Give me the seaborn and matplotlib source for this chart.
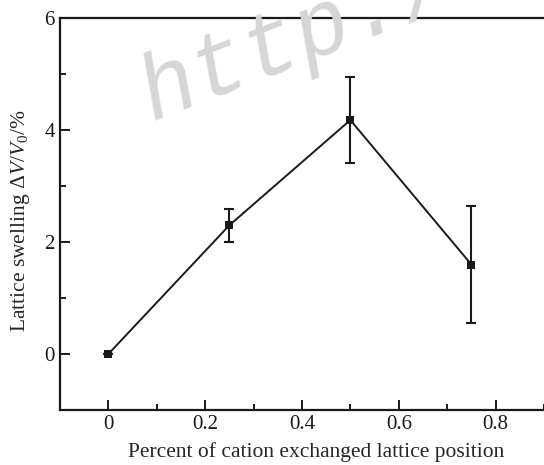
import pandas as pd
import numpy as np
import matplotlib

matplotlib.use("Agg")
import matplotlib.pyplot as plt
import seaborn as sns
from matplotlib.ticker import MultipleLocator

# data
fraction = [0.0, 0.25, 0.5, 0.75]
swelling = [0.0, 2.3, 4.18, 1.6]
err = [0.0, 0.29, 0.77, 1.05]

df = pd.DataFrame({"fraction": fraction, "swelling": swelling})

sns.set_style("ticks")
plt.rcParams["font.family"] = ["Liberation Serif", "DejaVu Serif"]
plt.rcParams["mathtext.fontset"] = "custom"
plt.rcParams["mathtext.rm"] = "Liberation Serif"
plt.rcParams["mathtext.it"] = "Liberation Serif:italic"

fig = plt.figure(figsize=(5.44, 4.65), dpi=100)
ax = fig.add_axes([0.110, 0.118, 0.89, 0.843])

# watermark behind everything
fig.text(0.279, 0.742, "http./", fontsize=66, color="#d6d6d6", rotation=21,
         family="Liberation Mono", style="italic", ha="left", va="baseline",
         rotation_mode="anchor", zorder=0)
ax.patch.set_alpha(0)

ax.errorbar(fraction, swelling, yerr=err, fmt="none", ecolor="#1a1a1a",
            elinewidth=1.5, capsize=3.5, capthick=1.5, zorder=2)
sns.lineplot(data=df, x="fraction", y="swelling", ax=ax, color="#1a1a1a",
             lw=1.4, marker="s", markersize=6, markeredgewidth=0, zorder=3)

ax.set_xlim(-0.1, 0.9)
ax.set_ylim(-1, 6)
ax.set_xticks([0, 0.2, 0.4, 0.6, 0.8])
ax.set_xticklabels(["0", "0.2", "0.4", "0.6", "0.8"])
ax.set_yticks([0, 2, 4, 6])
ax.xaxis.set_minor_locator(MultipleLocator(0.1))
ax.yaxis.set_minor_locator(MultipleLocator(1))
ax.tick_params(which="both", direction="in", top=False, right=False,
               width=1.4, labelsize=15, colors="#1a1a1a")
ax.tick_params(which="major", length=7)
ax.tick_params(which="minor", length=4)

for s in ["left", "bottom", "top"]:
    ax.spines[s].set_linewidth(1.6)
    ax.spines[s].set_color("#1a1a1a")
ax.spines["right"].set_visible(False)

ax.set_xlabel("Percent of cation exchanged lattice position", fontsize=15.5)
ax.xaxis.set_label_coords(0.529, -0.082)
ax.set_ylabel(r"Lattice swelling $\Delta V/V_0/\%$", fontsize=15.5)
ax.yaxis.set_label_coords(-0.058, 0.482)

plt.savefig("out.png", dpi=100)
plt.close()
